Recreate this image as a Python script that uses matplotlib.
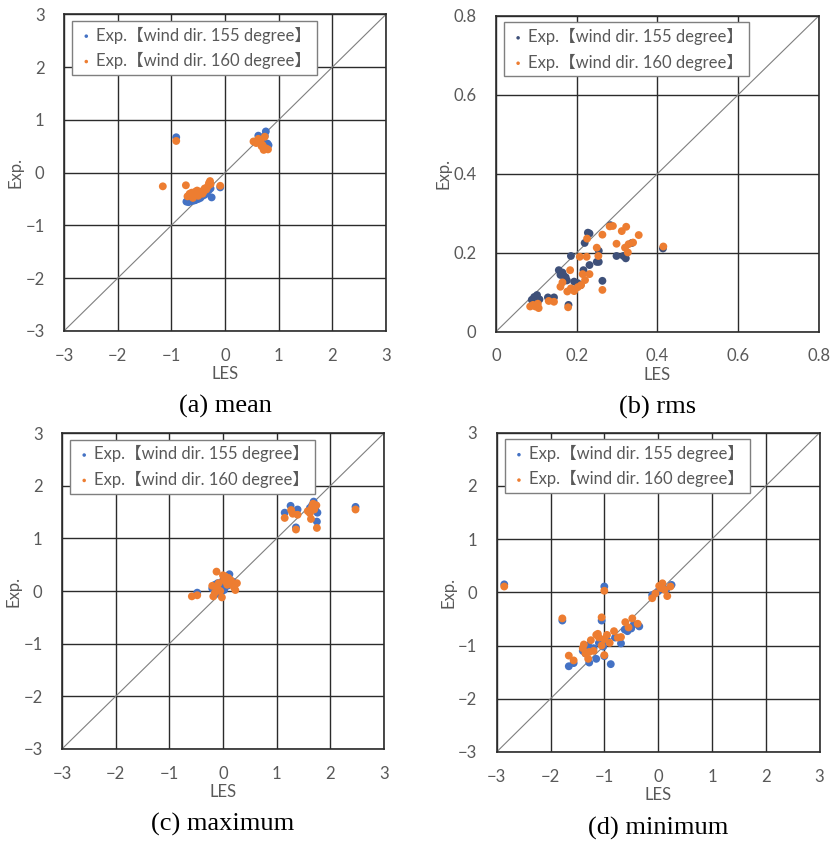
import matplotlib.pyplot as plt
import numpy as np

plt.rcParams['font.family'] = ['Lato', 'Noto Sans CJK JP', 'DejaVu Sans']

label_155 = "Exp.【wind dir. 155 degree】"
label_160 = "Exp.【wind dir. 160 degree】"

# (a) mean
mean_155_x = [-0.91, -0.09, -0.72, -0.68, -0.63, -0.58, -0.55, -0.50, -0.46, -0.42, -0.38, -0.34, -0.30, -0.27,
              -0.25, -0.60, -0.52, -0.44, 0.58, 0.62, 0.66, 0.70, 0.74, 0.76, 0.79, 0.81, 0.68, 0.72]
mean_155_y = [0.67, -0.28, -0.55, -0.56, -0.54, -0.53, -0.52, -0.50, -0.48, -0.44, -0.42, -0.38, -0.33, -0.30,
              -0.47, -0.48, -0.45, -0.40, 0.58, 0.70, 0.62, 0.66, 0.70, 0.78, 0.55, 0.52, 0.60, 0.48]
mean_160_x = [-0.91, -1.16, -0.73, -0.09, -0.70, -0.66, -0.62, -0.58, -0.55, -0.52, -0.48, -0.45, -0.42, -0.38,
              -0.35, -0.32, -0.30, -0.28, -0.27, -0.60, -0.50, -0.40, 0.53, 0.58, 0.62, 0.66, 0.70, 0.72, 0.76,
              0.80, 0.74, 0.68]
mean_160_y = [0.60, -0.26, -0.24, -0.25, -0.45, -0.40, -0.38, -0.42, -0.36, -0.34, -0.38, -0.36, -0.40, -0.30,
              -0.32, -0.26, -0.20, -0.16, -0.22, -0.48, -0.44, -0.36, 0.59, 0.56, 0.64, 0.60, 0.52, 0.43, 0.46,
              0.44, 0.68, 0.50]

# (b) rms
rms_155_x = [0.089, 0.095, 0.102, 0.108, 0.129, 0.144, 0.156, 0.160, 0.165, 0.173, 0.180, 0.186, 0.194, 0.203,
             0.217, 0.220, 0.228, 0.232, 0.232, 0.250, 0.255, 0.255, 0.264, 0.284, 0.299, 0.316, 0.322, 0.337,
             0.414, 0.168, 0.176, 0.210]
rms_155_y = [0.081, 0.088, 0.093, 0.082, 0.087, 0.087, 0.156, 0.144, 0.150, 0.138, 0.068, 0.192, 0.127, 0.123,
             0.156, 0.225, 0.251, 0.249, 0.169, 0.177, 0.205, 0.177, 0.129, 0.270, 0.192, 0.192, 0.186, 0.225,
             0.211, 0.142, 0.130, 0.118]
rms_160_x = [0.085, 0.092, 0.098, 0.104, 0.106, 0.131, 0.144, 0.160, 0.165, 0.177, 0.179, 0.184, 0.186, 0.194,
             0.203, 0.208, 0.211, 0.215, 0.221, 0.225, 0.226, 0.232, 0.250, 0.254, 0.264, 0.264, 0.282, 0.290,
             0.299, 0.312, 0.320, 0.323, 0.327, 0.329, 0.340, 0.354, 0.415]
rms_160_y = [0.064, 0.068, 0.064, 0.071, 0.060, 0.078, 0.076, 0.114, 0.125, 0.102, 0.062, 0.156, 0.110, 0.103,
             0.113, 0.190, 0.118, 0.146, 0.131, 0.190, 0.236, 0.146, 0.213, 0.192, 0.246, 0.106, 0.267, 0.268,
             0.223, 0.255, 0.213, 0.266, 0.201, 0.222, 0.226, 0.245, 0.216]

# (c) maximum
max_155_x = [2.47, 1.15, 1.26, 1.39, 1.36, 1.69, 1.76, 1.75, 1.62, 1.66, 1.72, -0.48, -0.20, -0.15, -0.10,
             -0.05, 0.00, 0.05, 0.10, 0.12, 0.18, 0.22, -0.12, 0.02, 0.08]
max_155_y = [1.60, 1.49, 1.62, 1.55, 1.21, 1.70, 1.49, 1.32, 1.58, 1.63, 1.55, -0.03, 0.05, 0.12, 0.15,
             0.08, 0.20, 0.22, 0.28, 0.32, 0.18, 0.12, -0.05, 0.02, 0.10]
max_160_x = [2.47, 1.15, 1.27, 1.30, 1.39, 1.36, 1.64, 1.75, 1.58, 1.62, 1.66, 1.70, 1.74, 1.68, -0.58, -0.48,
             -0.20, -0.12, -0.18, -0.15, -0.10, -0.08, -0.05, 0.00, 0.02, 0.05, 0.08, 0.10, 0.15, 0.20, 0.23,
             0.26, -0.02, 0.04]
max_160_y = [1.55, 1.39, 1.54, 1.47, 1.45, 1.17, 1.37, 1.20, 1.52, 1.48, 1.60, 1.55, 1.63, 1.66, -0.10, -0.08,
             0.10, 0.37, -0.10, -0.03, 0.05, 0.15, 0.00, 0.30, 0.22, 0.18, 0.12, 0.25, 0.20, 0.08, 0.02,
             0.15, -0.12, 0.28]

# (d) minimum
min_155_x = [-2.86, -1.00, -1.78, -1.05, -1.66, -1.57, -0.88, -1.28, -1.35, -1.20, -1.10, -1.00, -0.95, -0.80,
             -0.69, -0.57, -0.50, -0.35, -0.45, -0.62, -1.40, -1.15, -1.02, -0.11, 0.00, 0.10, 0.25, 0.15,
             -0.05, -1.30]
min_155_y = [0.15, 0.11, -0.53, -0.53, -1.39, -1.33, -1.35, -1.32, -1.15, -1.05, -0.95, -1.20, -0.90, -0.85,
             -0.96, -0.73, -0.68, -0.64, -0.60, -0.70, -1.10, -1.25, -1.02, -0.05, 0.02, 0.08, 0.14, 0.05,
             -0.02, -1.00]
min_160_x = [-2.86, -1.00, -1.78, -1.05, -1.66, -1.57, -1.40, -1.35, -1.30, -1.25, -1.20, -1.15, -1.10, -1.05,
             -1.00, -0.95, -0.90, -0.82, -0.75, -0.69, -0.61, -0.55, -0.48, -0.38, -1.12, -1.00, -1.28, -1.38,
             -0.11, -0.05, 0.02, 0.08, 0.12, 0.17, 0.23, 0.05]
min_160_y = [0.11, 0.03, -0.49, -0.47, -1.19, -1.28, -1.05, -1.15, -1.25, -0.90, -1.10, -0.80, -0.85, -1.00,
             -0.88, -0.80, -0.95, -0.73, -0.85, -0.84, -0.56, -0.66, -0.49, -0.59, -0.78, -1.18, -1.12, -0.98,
             -0.11, -0.02, 0.12, 0.17, 0.05, -0.07, 0.11, 0.08]

ticks_pm3 = [-3, -2, -1, 0, 1, 2, 3]
ticks_rms = [0, 0.2, 0.4, 0.6, 0.8]
tick_labels_rms = ["0", "0.2", "0.4", "0.6", "0.8"]

fig = plt.figure(figsize=(8.32, 8.42), dpi=100)

panels = [
    # rect, x155, y155, x160, y160, ticks, labels, blue colour, caption
    ([0.077, 0.607, 0.387, 0.376], mean_155_x, mean_155_y, mean_160_x, mean_160_y,
     ticks_pm3, None, '#4472C4', "(a) mean"),
    ([0.596, 0.606, 0.388, 0.375], rms_155_x, rms_155_y, rms_160_x, rms_160_y,
     ticks_rms, tick_labels_rms, '#3E5079', "(b) rms"),
    ([0.0745, 0.1105, 0.387, 0.375], max_155_x, max_155_y, max_160_x, max_160_y,
     ticks_pm3, None, '#4472C4', "(c) maximum"),
    ([0.597, 0.107, 0.388, 0.379], min_155_x, min_155_y, min_160_x, min_160_y,
     ticks_pm3, None, '#4472C4', "(d) minimum"),
]

for rect, x1, y1, x2, y2, ticks, labels, blue, caption in panels:
    ax = fig.add_axes(rect)
    lo, hi = ticks[0], ticks[-1]

    # grid and 1:1 line
    ax.grid(True, color='#2b2b2b', linewidth=1.0)
    ax.set_axisbelow(True)
    ax.plot([lo, hi], [lo, hi], color='#7f7f7f', linewidth=0.8, zorder=2)

    ax.scatter(x1, y1, s=32, color=blue, edgecolors='none', zorder=3, label=label_155)
    ax.scatter(x2, y2, s=32, color='#ED7D31', edgecolors='none', zorder=4, label=label_160)

    ax.set_xlim(lo, hi)
    ax.set_ylim(lo, hi)
    ax.set_xticks(ticks)
    ax.set_yticks(ticks)
    if labels is not None:
        ax.set_xticklabels(labels)
        ax.set_yticklabels(labels)
    ax.tick_params(length=0, labelsize=12, labelcolor='#595959')
    ax.tick_params(axis='x', pad=12)
    ax.tick_params(axis='y', pad=14)
    for sp in ax.spines.values():
        sp.set_color('#2b2b2b')
        sp.set_linewidth(1.2)

    ax.set_xlabel("LES", fontsize=12, color='#595959', labelpad=2)
    ax.set_ylabel("Exp.", fontsize=12, color='#595959', labelpad=1)

    leg = ax.legend(loc='upper left', bbox_to_anchor=(0.025, 0.98), borderaxespad=0,
                    fontsize=12, frameon=True, fancybox=False, framealpha=1,
                    edgecolor='#7f7f7f', labelcolor='#595959', markerscale=0.45,
                    handletextpad=0.1, handlelength=1.0, borderpad=0.35, labelspacing=0.5)
    leg.get_frame().set_linewidth(1.0)

    ax.text(0.5, -0.24, caption, transform=ax.transAxes, ha='center', va='center',
            fontsize=19, family='Liberation Serif', color='black')

fig.savefig("out.png", dpi=100)
